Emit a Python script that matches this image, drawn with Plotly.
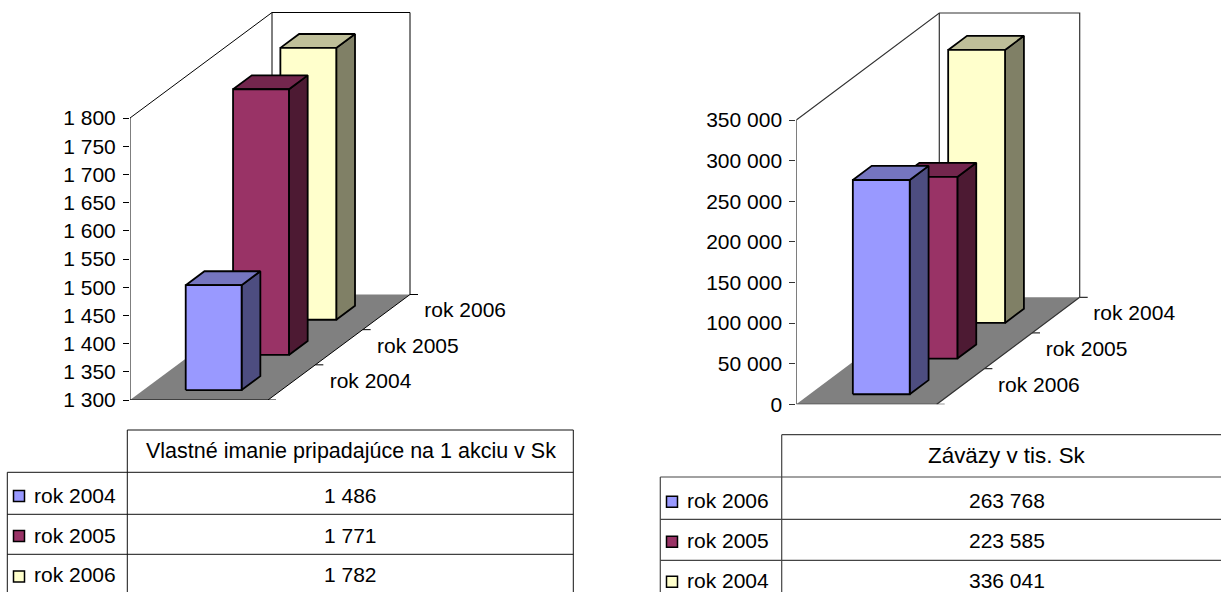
import plotly.graph_objects as go

# ---------- data ----------
left_years = ["rok 2004", "rok 2005", "rok 2006"]
left_values = [1486, 1771, 1782]
left_title = "Vlastné imanie pripadajúce na 1 akciu v Sk"
left_ticks = [1300, 1350, 1400, 1450, 1500, 1550, 1600, 1650, 1700, 1750, 1800]

right_years = ["rok 2006", "rok 2005", "rok 2004"]
right_values = [263768, 223585, 336041]
right_title = "Záväzy v tis. Sk"
right_ticks = [0, 50000, 100000, 150000, 200000, 250000, 300000, 350000]

# ---------- style ----------
FRONT = ["#9999FF", "#993366", "#FFFFCC"]
SIDE = ["#4D4D80", "#4D1A33", "#808066"]
TOP = ["#7575BF", "#73264D", "#BFBF99"]
FLOOR = "#808080"
W, H = 1221, 592
FONT = "Liberation Sans"
FS = 21
BAR_EDGE = 1.8

# chart geometry (pixels on the page)
G_LEFT = dict(x0=130, fw=138, y0=400, ytop=118, dx=142, dy=105.5, xend=600, suffix="", label_off=38, line="#000000", lw=1.0)
G_RIGHT = dict(x0=796.3, fw=140.4, y0=404.3, ytop=120, dx=143, dy=107, xend=1221, suffix="2", label_off=37.5, line="#333333", lw=1.2)

# bar shape, as fractions of the plot box
U0, BW, D0, BD, ROW = 0.307, 0.405, 0.094, 0.132, 1 / 3

fig = go.Figure()


def fmt(v):
    return f"{v:,}".replace(",", " ")


def add_chart(g, years, values, ticks):
    vmin, vmax = ticks[0], ticks[-1]
    scale = (g["y0"] - g["ytop"]) / (vmax - vmin)
    ddx = g["dx"] / g["fw"]
    ddy = g["dy"] / scale
    xa, ya = "x" + g["suffix"], "y" + g["suffix"]

    def P(u, d, v):
        return u + d * ddx, v + d * ddy

    def poly(pts, fill=None, color="#000000", width=BAR_EDGE):
        xs = [p[0] for p in pts]
        ys = [p[1] for p in pts]
        fig.add_trace(go.Scatter(
            x=xs, y=ys, xaxis=xa, yaxis=ya, mode="lines" if width else "none",
            fill="toself" if fill else None, fillcolor=fill,
            line=dict(color=color, width=width or 0), hoverinfo="skip", cliponaxis=False))

    lc, lw = g["line"], g["lw"]
    # floor
    poly([P(0, 0, vmin), P(1, 0, vmin), P(1, 1, vmin), P(0, 1, vmin), P(0, 0, vmin)], fill=FLOOR, width=0)
    # walls
    poly([P(0, 0, vmin), P(0, 0, vmax), P(0, 1, vmax), P(1, 1, vmax), P(1, 1, vmin)], color=lc, width=lw)
    poly([P(0, 1, vmax), P(0, 1, vmin)], color=lc, width=lw)
    # floor front and right edges
    poly([P(0, 0, vmin), P(1, 0, vmin), P(1, 1, vmin)], color=lc, width=lw)
    # depth ticks
    tick = 8 / g["fw"]
    for k in range(4):
        a = P(1, k * ROW, vmin)
        poly([a, (a[0] + tick, a[1])], color=lc, width=lw)
    # depth labels
    for k, name in enumerate(years):
        a = P(1, (k + 0.5) * ROW, vmin)
        fig.add_trace(go.Scatter(
            x=[a[0] + g["label_off"] / g["fw"]], y=[a[1]], xaxis=xa, yaxis=ya, mode="text",
            text=[name], textposition="middle right",
            textfont=dict(family=FONT, size=FS, color="#000000"), hoverinfo="skip", cliponaxis=False))
    # bars, back to front
    for k in reversed(range(len(values))):
        v = values[k]
        d1 = D0 + k * ROW
        d2 = d1 + BD
        u1, u2 = U0, U0 + BW
        poly([P(u2, d1, vmin), P(u2, d2, vmin), P(u2, d2, v), P(u2, d1, v), P(u2, d1, vmin)], fill=SIDE[k])
        poly([P(u1, d1, v), P(u2, d1, v), P(u2, d2, v), P(u1, d2, v), P(u1, d1, v)], fill=TOP[k])
        poly([P(u1, d1, vmin), P(u2, d1, vmin), P(u2, d1, v), P(u1, d1, v), P(u1, d1, vmin)], fill=FRONT[k])

    # axes
    xaxis = dict(domain=[g["x0"] / W, g["xend"] / W], range=[0, (g["xend"] - g["x0"]) / g["fw"]],
                 visible=False, anchor=ya, fixedrange=True, automargin=False)
    yaxis = dict(domain=[(H - g["y0"]) / H, 1], range=[vmin, vmin + g["y0"] / scale], anchor=xa,
                 tickmode="array", tickvals=ticks, ticktext=[fmt(t) for t in ticks],
                 ticks="outside", ticklen=6, tickwidth=1, tickcolor=lc, ticklabelstandoff=3,
                 showgrid=False, zeroline=False, showline=False, fixedrange=True, automargin=False,
                 tickfont=dict(family=FONT, size=FS, color="#000000"))
    fig.update_layout({"xaxis" + g["suffix"]: xaxis, "yaxis" + g["suffix"]: yaxis})


add_chart(G_LEFT, left_years, left_values, left_ticks)
add_chart(G_RIGHT, right_years, right_values, right_ticks)

# ---------- data tables, in a page-sized overlay ----------
T_LEFT = dict(xl=7.3, xm=127.3, xr=573.3, yt=430, rows=[472.3, 514.3, 554.3], xc=350.5, key=19, lab=34,
              hy=451, ty=[495, 535, 574.5], ky=[496, 536, 576.5], color="#111111", lw=1.0, title_size=21.5)
T_RIGHT = dict(xl=660.3, xm=781.7, xr=W, yt=434.7, rows=[477, 519.3, 560.3], xc=1007, key=672, lab=687,
               hy=455, ty=[500, 540, 580], ky=[501.7, 541.7, 581.7], color="#444444", lw=1.2, title_size=22.4)

shapes, annotations = [], []


def add_table(t, title, years, values):
    def seg(x1, y1, x2, y2):
        shapes.append(dict(type="line", xref="x3", yref="y3", x0=x1, y0=y1, x1=x2, y1=y2,
                           line=dict(color=t["color"], width=t["lw"])))
    seg(t["xm"], t["yt"], t["xr"], t["yt"])
    seg(t["xm"], t["yt"], t["xm"], H)
    if t["xr"] < W:
        seg(t["xr"], t["yt"], t["xr"], H)
    seg(t["xl"], t["rows"][0], t["xl"], H)
    for r in t["rows"]:
        seg(t["xl"], r, t["xr"], r)

    def text(x, y, s, anchor, size=FS):
        annotations.append(dict(xref="x3", yref="y3", x=x, y=y, text=s, showarrow=False, xanchor=anchor,
                                yanchor="middle", borderpad=0, borderwidth=0,
                                font=dict(family=FONT, size=size, color="#000000")))
    text(t["xc"], t["hy"], title, "center", t["title_size"])
    for k, (name, v) in enumerate(zip(years, values)):
        text(t["lab"], t["ty"][k], name, "left")
        text(t["xc"], t["ty"][k], fmt(v), "center")
    fig.add_trace(go.Scatter(
        x=[t["key"]] * len(values), y=t["ky"], xaxis="x3", yaxis="y3", mode="markers",
        marker=dict(symbol="square", size=11, color=FRONT[:len(values)], line=dict(color="#000000", width=1.5)),
        hoverinfo="skip", cliponaxis=False))


add_table(T_LEFT, left_title, left_years, left_values)
add_table(T_RIGHT, right_title, right_years, right_values)

fig.update_layout(
    template="none",
    width=W, height=H, margin=dict(l=0, r=0, t=0, b=0), showlegend=False,
    paper_bgcolor="#FFFFFF", plot_bgcolor="rgba(0,0,0,0)", hovermode=False,
    xaxis3=dict(domain=[0, 1], range=[0, W], visible=False, anchor="y3", fixedrange=True, automargin=False),
    yaxis3=dict(domain=[0, 1], range=[H, 0], visible=False, anchor="x3", fixedrange=True, automargin=False),
    shapes=shapes, annotations=annotations,
)

fig.write_html("out.html", config={"displayModeBar": False},
               post_script="document.body.style.margin='0';document.body.style.overflow='hidden';")
